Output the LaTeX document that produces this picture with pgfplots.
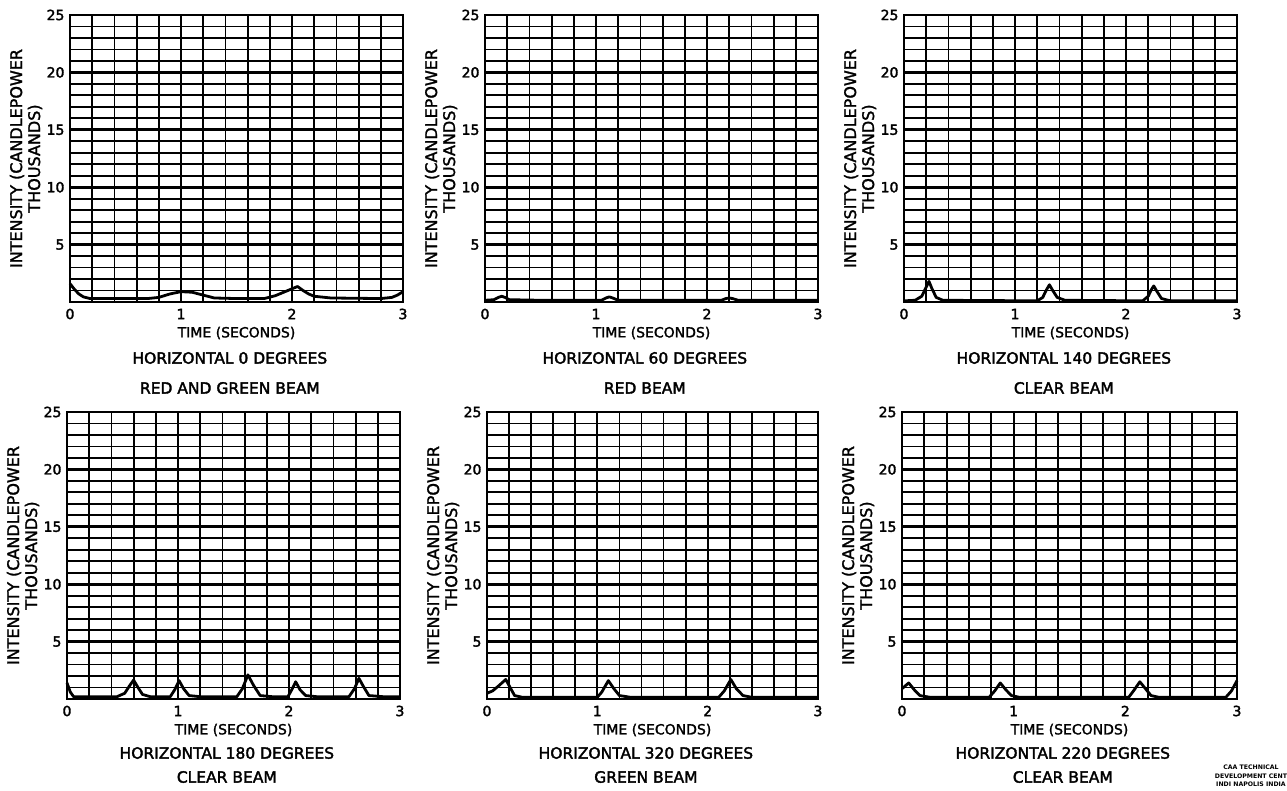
\documentclass[border=0pt]{standalone}
\usepackage{fontspec}
\setmainfont{DejaVu Sans}
\usepackage{pgfplots}
\pgfplotsset{compat=1.18}
\newfontfamily\lab[FakeBold=1.6]{DejaVu Sans}
\newfontfamily\labb[FakeBold=2.2]{DejaVu Sans}
\newfontfamily\labs{DejaVu Sans Bold}
\pgfplotsset{
  panel/.style={
    anchor=south west, scale only axis, width=333pt, height=287pt,
    xmin=0, xmax=3, ymin=0, ymax=25,
    xtick={0,1,2,3}, ytick={5,10,15,20,25},
    minor xtick={0.2,0.4,0.6,0.8,1.2,1.4,1.6,1.8,2.2,2.4,2.6,2.8},
    minor ytick={1,2,3,4,6,7,8,9,11,12,13,14,16,17,18,19,21,22,23,24},
    grid=both,
    minor grid style={black, line width=1.8pt},
    major x grid style={black, line width=1.8pt},
    major y grid style={black, line width=2.8pt},
    axis line style={black, line width=2.8pt},
    major tick length=0pt, minor tick length=0pt,
    /pgf/number format/assume math mode=true,
    tick label style={font=\labb\fontsize{14}{14}\selectfont},
    xticklabel style={anchor=center, yshift=-12pt},
    yticklabel style={anchor=east, xshift=-2pt},
    every axis y label/.style={at={(axis description cs:0,0.5)}, xshift=-44pt, rotate=90, anchor=center, align=center, font=\lab\fontsize{16}{18}\selectfont},
    every axis x label/.style={at={(axis description cs:0.5,0)}, yshift=-31pt, anchor=center, font=\lab\fontsize{14}{14}\selectfont},
    ylabel={INTENSITY (CANDLEPOWER\\THOUSANDS)},
    xlabel={TIME (SECONDS)},
    clip=false,
  },
  curve/.style={black, line width=2.8pt, line join=round, no marks},
}
\newcommand{\titles}[4]{%
  \node[font=\labb\fontsize{15.5}{15.5}\selectfont, anchor=center] at ([yshift=-#3pt]axis description cs:0.48,0) {#1};
  \node[font=\labb\fontsize{15.5}{15.5}\selectfont, anchor=center] at ([yshift=-#4pt]axis description cs:0.48,0) {#2};
}
\begin{document}
\begin{tikzpicture}
\useasboundingbox (0,0) rectangle (1287pt,790pt);
% ---------- Row 1 ----------
\begin{axis}[panel, at={(70pt,488pt)}]
\addplot[curve] coordinates {(0,1.6) (0.04,1.1) (0.08,0.7) (0.12,0.45) (0.18,0.3) (0.4,0.3) (0.7,0.3) (0.8,0.4) (0.9,0.7) (1.0,0.9) (1.1,0.85) (1.2,0.6) (1.3,0.35) (1.5,0.3) (1.75,0.3) (1.85,0.55) (1.95,0.95) (2.05,1.35) (2.1,1.0) (2.15,0.7) (2.2,0.5) (2.35,0.35) (2.8,0.3) (2.9,0.4) (2.95,0.6) (3.0,0.9)};
\titles{HORIZONTAL 0 DEGREES}{RED AND GREEN BEAM}{56}{86}
\end{axis}
\begin{axis}[panel, at={(485pt,488pt)}]
\addplot[curve] coordinates {(0,0.15) (0.08,0.2) (0.12,0.4) (0.15,0.5) (0.18,0.4) (0.22,0.2) (0.5,0.15) (1.05,0.15) (1.09,0.35) (1.12,0.45) (1.15,0.35) (1.2,0.15) (2.13,0.15) (2.17,0.3) (2.2,0.35) (2.23,0.3) (2.28,0.15) (3.0,0.15)};
\titles{HORIZONTAL 60 DEGREES}{RED BEAM}{56}{86}
\end{axis}
\begin{axis}[panel, at={(904pt,488pt)}]
\addplot[curve] coordinates {(0,0.1) (0.1,0.15) (0.16,0.5) (0.2,1.3) (0.225,1.8) (0.25,1.2) (0.29,0.4) (0.35,0.15) (1.2,0.1) (1.25,0.4) (1.28,1.0) (1.31,1.5) (1.34,1.0) (1.38,0.4) (1.45,0.15) (2.15,0.1) (2.2,0.5) (2.23,1.1) (2.25,1.4) (2.28,0.9) (2.32,0.3) (2.4,0.1) (3.0,0.1)};
\titles{HORIZONTAL 140 DEGREES}{CLEAR BEAM}{56}{86}
\end{axis}
% ---------- Row 2 ----------
\begin{axis}[panel, at={(67pt,91pt)}]
\addplot[curve] coordinates {(0,1.4) (0.03,0.6) (0.06,0.2) (0.45,0.2) (0.52,0.5) (0.56,1.1) (0.6,1.65) (0.64,1.0) (0.68,0.4) (0.75,0.2) (0.93,0.2) (0.97,0.8) (1.01,1.6) (1.05,0.9) (1.1,0.3) (1.2,0.2) (1.53,0.2) (1.58,0.9) (1.63,2.1) (1.68,1.2) (1.74,0.3) (1.85,0.2) (1.99,0.2) (2.03,0.9) (2.06,1.5) (2.1,0.8) (2.15,0.3) (2.25,0.2) (2.54,0.2) (2.59,0.9) (2.63,1.8) (2.67,1.1) (2.72,0.3) (2.85,0.2) (3.0,0.2)};
\titles{HORIZONTAL 180 DEGREES}{CLEAR BEAM}{54}{78}
\end{axis}
\begin{axis}[panel, at={(487pt,91pt)}, width=331pt]
\addplot[curve] coordinates {(0,0.5) (0.05,0.7) (0.1,1.1) (0.17,1.7) (0.21,1.0) (0.25,0.3) (0.32,0.15) (1.0,0.15) (1.04,0.6) (1.1,1.6) (1.15,0.9) (1.2,0.3) (1.3,0.15) (2.1,0.15) (2.15,0.7) (2.21,1.7) (2.26,0.9) (2.32,0.3) (2.4,0.15) (3.0,0.15)};
\titles{HORIZONTAL 320 DEGREES}{GREEN BEAM}{54}{78}
\end{axis}
\begin{axis}[panel, at={(902pt,91pt)}, width=335pt]
\addplot[curve] coordinates {(0,0.9) (0.06,1.4) (0.11,0.8) (0.16,0.3) (0.25,0.15) (0.78,0.15) (0.83,0.7) (0.88,1.4) (0.93,0.8) (0.98,0.3) (1.05,0.15) (2.03,0.15) (2.08,0.8) (2.13,1.5) (2.18,0.9) (2.23,0.3) (2.3,0.15) (2.9,0.15) (2.95,0.7) (3.0,1.6)};
\titles{HORIZONTAL 220 DEGREES}{CLEAR BEAM}{54}{78}
\end{axis}
\node[font=\labs\fontsize{6.2}{8.5}\selectfont, align=center, anchor=center] at (1251pt,14pt) {CAA TECHNICAL\\DEVELOPMENT CENT\\INDI NAPOLIS INDIA};
\end{tikzpicture}
\end{document}
